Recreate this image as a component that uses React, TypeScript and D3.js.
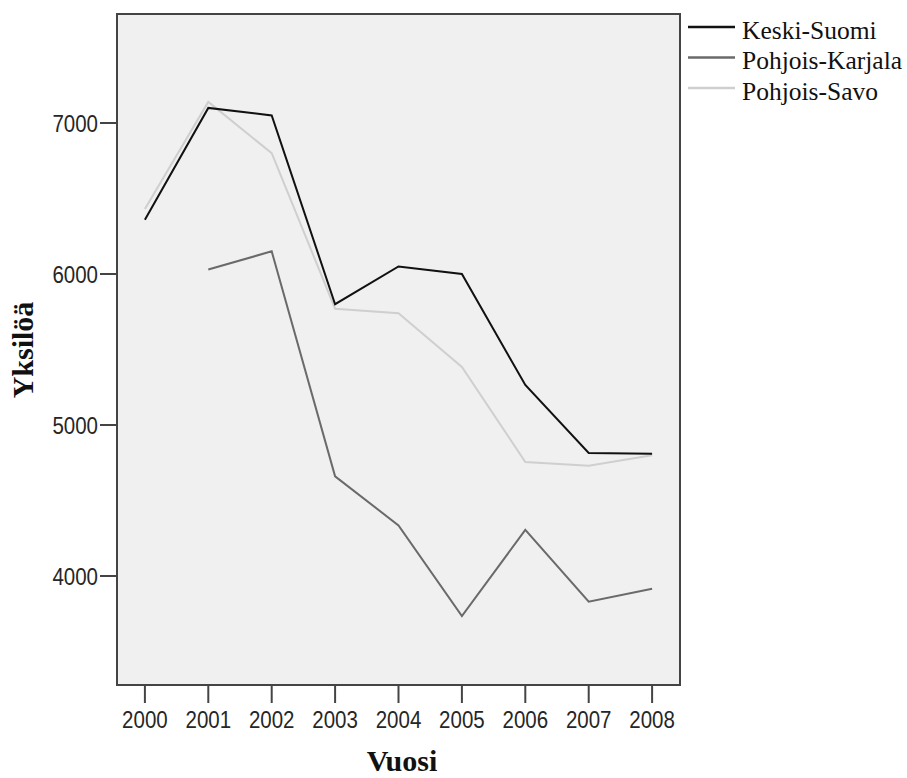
import React from "react";
import * as d3 from "d3";

const years = [2000, 2001, 2002, 2003, 2004, 2005, 2006, 2007, 2008];
const keskiSuomi = [6360, 7100, 7050, 5800, 6050, 6000, 5265, 4815, 4810];
const pohjoisKarjala: (number | null)[] = [null, 6030, 6150, 4660, 4335, 3735, 4305, 3830, 3915];
const pohjoisSavo = [6430, 7140, 6800, 5770, 5740, 5385, 4755, 4730, 4800];
const yTicks = [4000, 5000, 6000, 7000];
const seriesNames = ["Keski-Suomi", "Pohjois-Karjala", "Pohjois-Savo"];
const seriesColors = ["#111111", "#6a6a6a", "#cfcfcf"];
const xTitle = "Vuosi";
const yTitle = "Yksilöä";

const W = 907;
const H = 778;
const plot = { left: 117, right: 680, top: 14, bottom: 685 };

export default function App() {
  const x = d3
    .scalePoint<number>()
    .domain(years)
    .range([plot.left, plot.right])
    .padding(0.44);
  const y = d3.scaleLinear().domain([3278, 7722]).range([plot.bottom, plot.top]);

  const line = d3
    .line<number | null>()
    .defined((d) => d !== null)
    .x((_, i) => x(years[i]) as number)
    .y((d) => y(d as number));

  const data = [keskiSuomi, pohjoisKarjala, pohjoisSavo];
  const drawOrder = [2, 1, 0];
  const tickFont = "'Liberation Sans', Arial, sans-serif";
  const tickSize = 20.5;
  const tickStretch = 1.18;
  const axisColor = "#444";

  return (
    <svg
      width={W}
      height={H}
      style={{ position: "absolute", left: 0, top: 0, background: "#fff" }}
    >
      <rect
        x={plot.left}
        y={plot.top}
        width={plot.right - plot.left}
        height={plot.bottom - plot.top}
        fill="#f0f0f0"
        stroke={axisColor}
        strokeWidth={2}
      />
      {drawOrder.map((si) => (
        <path
          key={si}
          d={line(data[si] as (number | null)[]) || ""}
          fill="none"
          stroke={seriesColors[si]}
          strokeWidth={2}
          strokeLinejoin="miter"
        />
      ))}
      {/* y axis ticks */}
      {yTicks.map((t) => (
        <g key={t}>
          <line x1={plot.left - 17} x2={plot.left} y1={y(t)} y2={y(t)} stroke={axisColor} strokeWidth={2} />
          <text
            transform={`translate(${plot.left - 19}, ${y(t) + 8.8}) scale(1, ${tickStretch})`}
            textAnchor="end"
            fontFamily={tickFont}
            fontSize={tickSize}
            fill="#262626"
          >
            {t}
          </text>
        </g>
      ))}
      {/* x axis ticks */}
      {years.map((yr) => (
        <g key={yr}>
          <line
            x1={x(yr)}
            x2={x(yr)}
            y1={plot.bottom}
            y2={plot.bottom + 18}
            stroke={axisColor}
            strokeWidth={2}
          />
          <text
            transform={`translate(${x(yr)}, 728) scale(1, ${tickStretch})`}
            textAnchor="middle"
            fontFamily={tickFont}
            fontSize={tickSize}
            fill="#262626"
          >
            {yr}
          </text>
        </g>
      ))}
      <text
        x={402}
        y={771}
        textAnchor="middle"
        fontFamily="'Liberation Serif', serif"
        fontWeight="bold"
        fontSize={30}
        fill="#111"
      >
        {xTitle}
      </text>
      <text
        transform={`translate(33, 350) rotate(-90)`}
        textAnchor="middle"
        fontFamily="'Liberation Serif', serif"
        fontWeight="bold"
        fontSize={30}
        fill="#111"
      >
        {yTitle}
      </text>
      {/* legend */}
      {seriesNames.map((name, i) => {
        const ly = 27 + i * 30.5;
        return (
          <g key={name}>
            <line x1={688} x2={735} y1={ly} y2={ly} stroke={seriesColors[i]} strokeWidth={2.5} />
            <text
              x={742}
              y={ly + 11.5}
              fontFamily="'Liberation Serif', serif"
              fontSize={25.5}
              fill="#111"
            >
              {name}
            </text>
          </g>
        );
      })}
    </svg>
  );
}
